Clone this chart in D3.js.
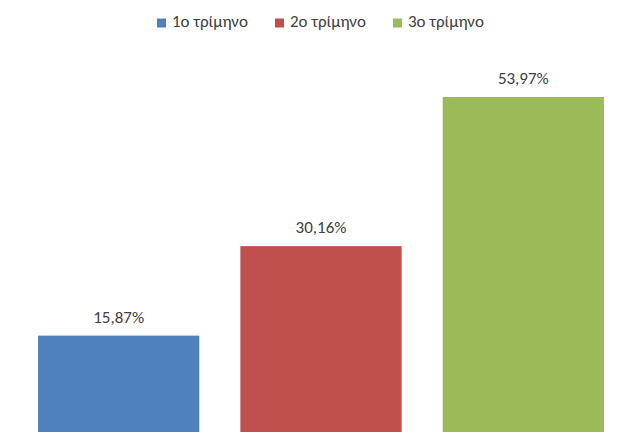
<!DOCTYPE html>
<html><head><meta charset="utf-8">
<script src="https://cdn.jsdelivr.net/npm/d3@7"></script>
<style>body{margin:0;background:#fff;}svg{display:block;}</style>
</head><body>
<svg id="chart" width="634" height="432"></svg>
<script>
const series = ["1ο τρίμηνο", "2ο τρίμηνο", "3ο τρίμηνο"];
const values = [15.87, 30.16, 53.97];
const colors = ["#4F81BD", "#C0504D", "#9BBB59"];

const svg = d3.select("#chart");
const font = "Carlito, Calibri, Lato, 'Open Sans', 'DejaVu Sans', sans-serif";

const pIn = 41 / 202;
const x = d3.scaleBand().domain(series).range([17.5, 624.5]).paddingInner(pIn).paddingOuter(pIn / 2);
const y = d3.scaleLinear().domain([0, 53.97]).range([435, 97]);
const color = d3.scaleOrdinal().domain(series).range(colors);
const fmt = v => d3.format(".2f")(v).replace(".", ",") + "%";

const data = series.map((s, i) => ({s, v: values[i]}));

svg.selectAll("rect.bar").data(data).enter().append("rect")
  .attr("class", "bar")
  .attr("x", d => x(d.s))
  .attr("width", x.bandwidth())
  .attr("y", d => y(d.v))
  .attr("height", d => y(0) - y(d.v))
  .attr("fill", d => color(d.s));

svg.selectAll("text.lbl").data(data).enter().append("text")
  .attr("class", "lbl")
  .attr("x", d => x(d.s) + x.bandwidth() / 2)
  .attr("y", d => y(d.v) - 13)
  .attr("text-anchor", "middle")
  .attr("font-family", font)
  .attr("font-size", 17)
  .attr("fill", "#404040")
  .text(d => fmt(d.v));

// legend
const legendX = [157, 275, 393];
const lg = svg.append("g");
series.forEach((s, i) => {
  const g = lg.append("g").attr("transform", `translate(${legendX[i]},0)`);
  g.append("rect").attr("x", 0).attr("y", 18.5).attr("width", 9).attr("height", 9).attr("fill", color(s));
  g.append("text").attr("x", 15).attr("y", 27)
    .attr("font-family", font).attr("font-size", 17).attr("fill", "#404040").text(s);
});
</script>
</body></html>
